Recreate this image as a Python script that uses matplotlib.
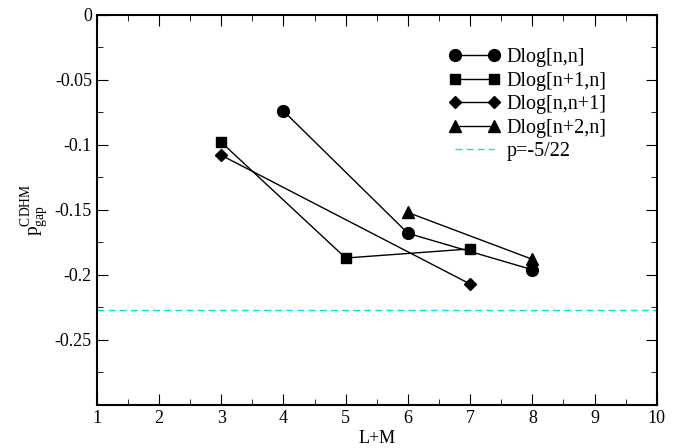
import matplotlib.pyplot as plt
from matplotlib.ticker import MultipleLocator

plt.rcParams['font.family'] = ['Liberation Serif', 'DejaVu Serif']
plt.rcParams['mathtext.fontset'] = 'custom'
plt.rcParams['mathtext.rm'] = 'Liberation Serif'

# data
x_nn = [4, 6, 8]
y_nn = [-0.074, -0.168, -0.196]
x_n1n = [3, 5, 7]
y_n1n = [-0.098, -0.187, -0.180]
x_nn1 = [3, 7]
y_nn1 = [-0.108, -0.207]
x_n2n = [6, 8]
y_n2n = [-0.152, -0.188]
p_ref = -5 / 22

fig = plt.figure(figsize=(6.82, 4.48), dpi=100)
ax = fig.add_axes([0.142, 0.096, 0.821, 0.871])

ax.plot(x_nn, y_nn, '-o', color='black', lw=1, ms=8.5, label='Dlog[n,n]')
ax.plot(x_n1n, y_n1n, '-s', color='black', lw=1, ms=7.5, label='Dlog[n+1,n]')
ax.plot(x_nn1, y_nn1, '-D', color='black', lw=1, ms=6, label='Dlog[n,n+1]')
ax.plot(x_n2n, y_n2n, '-^', color='black', lw=1, ms=8.5, label='Dlog[n+2,n]')
ax.axhline(p_ref, color='#00e5e5', ls='--', lw=1, dashes=(5, 3), label='p=-5/22')

ax.set_xlim(1, 10)
ax.set_ylim(-0.3, 0)
ax.xaxis.set_major_locator(MultipleLocator(1))
ax.xaxis.set_minor_locator(MultipleLocator(0.5))
ax.yaxis.set_major_locator(MultipleLocator(0.05))
ax.yaxis.set_minor_locator(MultipleLocator(0.025))
ax.set_yticks([0, -0.05, -0.1, -0.15, -0.2, -0.25])
ax.set_yticklabels(['0', '-0.05', '-0.1', '-0.15', '-0.2', '-0.25'])
ax.tick_params(which='both', direction='in', top=True, right=True, labelsize=13)
ax.tick_params(which='major', length=8)
ax.tick_params(which='minor', length=4)
for s in ax.spines.values():
    s.set_linewidth(1.5)

ax.set_xlabel('L+M', fontsize=13, labelpad=2)
ax.set_ylabel(r'$\mathrm{p}^{\mathrm{CDHM}}_{\mathrm{gap}}$', fontsize=14, labelpad=3)

ax.legend(loc='upper right', bbox_to_anchor=(0.925, 0.935), frameon=False, numpoints=2,
          fontsize=14.5, handlelength=2.5, labelspacing=0.22, handletextpad=0.35,
          borderaxespad=0)

plt.savefig('out.png')
